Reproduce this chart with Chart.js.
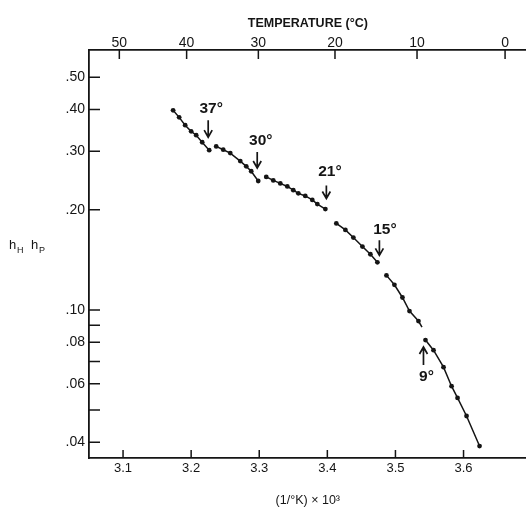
<!DOCTYPE html>
<html><head><meta charset="utf-8">
<script src="https://cdn.jsdelivr.net/npm/chart.js@4"></script>
<style>html,body{margin:0;padding:0;background:#fff;overflow:hidden;width:526px;height:508px}#wrap{width:529px;height:508px;position:relative}</style>
</head><body><div id="wrap"><canvas id="c"></canvas></div>
<script>
// ---- data ----
const xTickValues = [3.1, 3.2, 3.3, 3.4, 3.5, 3.6];
const xTickLabels = ['3.1', '3.2', '3.3', '3.4', '3.5', '3.6'];
const tempTickValues = [50, 40, 30, 20, 10, 0];
const yTickValues = [0.5, 0.4, 0.3, 0.2, 0.1, 0.09, 0.08, 0.07, 0.06, 0.05, 0.04];
const yTickLabels = ['.50', '.40', '.30', '.20', '.10', '', '.08', '', '.06', '', '.04'];

const seg37X = [3.1735, 3.1824, 3.1912, 3.2000, 3.2074, 3.2162, 3.2265];
const seg37Y = [0.398, 0.379, 0.359, 0.344, 0.335, 0.319, 0.302];
const seg30X = [3.2368, 3.2471, 3.2574, 3.2721, 3.2809, 3.2882, 3.2985];
const seg30Y = [0.310, 0.303, 0.296, 0.280, 0.270, 0.261, 0.244];
const seg21X = [3.3103, 3.3206, 3.3309, 3.3412, 3.3500, 3.3574, 3.3676, 3.3779, 3.3853, 3.3971];
const seg21Y = [0.251, 0.245, 0.240, 0.235, 0.229, 0.224, 0.220, 0.214, 0.208, 0.201];
const seg15X = [3.4132, 3.4265, 3.4382, 3.4515, 3.4632, 3.4735];
const seg15Y = [0.182, 0.174, 0.165, 0.155, 0.147, 0.139];
const seg9aX = [3.4868, 3.4985, 3.5103, 3.5206, 3.5338, 3.5390];
const seg9aY = [0.127, 0.119, 0.109, 0.0992, 0.0926, 0.0888];
const seg9bX = [3.5441, 3.5559, 3.5706, 3.5824, 3.5912, 3.6044, 3.6235];
const seg9bY = [0.0812, 0.0757, 0.0673, 0.0590, 0.0544, 0.0480, 0.0390];

const annLabels = ['37°', '30°', '21°', '15°', '9°'];

// ---- chart ----
const FONT = '"Liberation Sans", Arial, sans-serif';
const INK = '#151515';
const pts = (xs, ys) => xs.map((x, i) => ({x: x, y: ys[i]}));
const segs = [[seg37X, seg37Y], [seg30X, seg30Y], [seg21X, seg21Y], [seg15X, seg15Y], [seg9aX, seg9aY], [seg9bX, seg9bY]];
const datasets = segs.map((s, k) => ({
  data: pts(s[0], s[1]),
  showLine: true,
  borderColor: INK,
  backgroundColor: INK,
  borderWidth: 1.5,
  pointRadius: k === 4 ? [2.4, 2.4, 2.4, 2.4, 2.4, 0] : 2.4,
  pointBorderWidth: 0,
  pointHoverRadius: 0
}));

const XMIN = 3.05, XMAX = 3.6926;
const findIdx = (arr, v) => arr.findIndex(a => Math.abs(a - v) < 1e-6);

// annotation styling (pixel offsets from the anchoring segment end)
const annStyle = [
  {seg: 0, end: 'last', ax: -1, tail: -30, tip: -13, tx: 2, ty: -41},
  {seg: 1, end: 'last', ax: -1, tail: -29, tip: -13, tx: 2.5, ty: -40},
  {seg: 2, end: 'last', ax: 1, tail: -23.5, tip: -10.5, tx: 4.5, ty: -37.5},
  {seg: 3, end: 'last', ax: 2, tail: -22, tip: -7, tx: 7.5, ty: -33},
  {seg: 5, end: 'first', ax: -2, tail: 25, tip: 7, tx: 1, ty: 36.5}
];

const decor = {
  id: 'decor',
  afterDraw(chart) {
    const ctx = chart.ctx;
    const xs = chart.scales.x, xt = chart.scales.xTop, ys = chart.scales.y;
    const {left, right, top, bottom} = chart.chartArea;
    ctx.save();
    ctx.strokeStyle = INK;
    ctx.fillStyle = INK;
    ctx.lineWidth = 1.5;
    // inward tick marks
    ctx.beginPath();
    yTickValues.forEach(v => {
      const p = ys.getPixelForValue(v);
      ctx.moveTo(left, p); ctx.lineTo(left + 11, p);
    });
    xTickValues.forEach(v => {
      const p = xs.getPixelForValue(v);
      ctx.moveTo(p, bottom); ctx.lineTo(p, bottom - 8);
    });
    tempTickValues.forEach(t => {
      const p = xt.getPixelForValue(1000 / (t + 273.15));
      ctx.moveTo(p, top); ctx.lineTo(p, top + 9);
    });
    ctx.stroke();

    // annotations
    ctx.font = 'bold 15.5px ' + FONT;
    ctx.textAlign = 'center';
    ctx.textBaseline = 'middle';
    ctx.lineWidth = 1.7;
    annStyle.forEach((a, i) => {
      const d = segs[a.seg];
      const j = a.end === 'last' ? d[0].length - 1 : 0;
      const px = xs.getPixelForValue(d[0][j]);
      const py = ys.getPixelForValue(d[1][j]);
      const x = px + a.ax;
      const y1 = py + a.tail, y2 = py + a.tip;
      const dir = Math.sign(y2 - y1);
      ctx.beginPath();
      ctx.moveTo(x, y1); ctx.lineTo(x, y2);
      ctx.moveTo(x - 4, y2 - dir * 7); ctx.lineTo(x, y2); ctx.lineTo(x + 4, y2 - dir * 7);
      ctx.stroke();
      ctx.fillText(annLabels[i], px + a.tx, py + a.ty);
    });

    // y-axis label h_H h_P
    ctx.textAlign = 'left';
    ctx.textBaseline = 'alphabetic';
    ctx.font = '13px ' + FONT;
    ctx.fillText('h', 9, 249);
    ctx.fillText('h', 31, 249);
    ctx.font = '9px ' + FONT;
    ctx.fillText('H', 17, 253);
    ctx.fillText('P', 39, 253);
    ctx.restore();
  }
};

new Chart(document.getElementById('c'), {
  type: 'scatter',
  data: {datasets: datasets},
  plugins: [decor],
  options: {
    responsive: true,
    maintainAspectRatio: false,
    animation: false,
    events: [],
    layout: {padding: 0},
    plugins: {legend: {display: false}, tooltip: {enabled: false}},
    scales: {
      x: {
        type: 'linear', position: 'bottom', min: XMIN, max: XMAX,
        grid: {display: false, drawTicks: false},
        border: {display: true, color: INK, width: 1.8},
        afterBuildTicks: s => { s.ticks = xTickValues.map(v => ({value: v})); },
        afterFit: s => { s.height = 50; },
        ticks: {
          autoSkip: false, maxRotation: 0, padding: 3, color: INK,
          font: {family: FONT, size: 13},
          callback: v => { const i = findIdx(xTickValues, v); return i < 0 ? '' : xTickLabels[i]; }
        },
        title: {display: true, text: '(1/°K) × 10³', color: INK, font: {family: FONT, size: 12.5}, padding: {top: 0, bottom: 0}}
      },
      xTop: {
        type: 'linear', position: 'top', min: XMIN, max: XMAX,
        grid: {display: false, drawTicks: false},
        border: {display: true, color: INK, width: 1.8},
        afterBuildTicks: s => { s.ticks = tempTickValues.map(t => ({value: 1000 / (t + 273.15)})); },
        afterFit: s => { s.height = 50; },
        ticks: {
          autoSkip: false, maxRotation: 0, padding: -2, color: INK,
          font: {family: FONT, size: 14},
          callback: (v, i) => String(tempTickValues[i])
        },
        title: {display: true, text: 'TEMPERATURE (°C)', color: INK, font: {family: FONT, size: 12.5, weight: 'bold'}, padding: {top: 16, bottom: 0}}
      },
      y: {
        type: 'logarithmic', position: 'left', min: 0.0359, max: 0.604,
        grid: {display: false, drawTicks: false},
        border: {display: true, color: INK, width: 1.8},
        afterBuildTicks: s => { s.ticks = yTickValues.map(v => ({value: v})); },
        afterFit: s => { s.width = 89; },
        ticks: {
          autoSkip: false, padding: 4, color: INK,
          font: {family: FONT, size: 14},
          callback: v => { const i = findIdx(yTickValues, v); return i < 0 ? '' : yTickLabels[i]; }
        }
      }
    }
  }
});
</script>
</body></html>
